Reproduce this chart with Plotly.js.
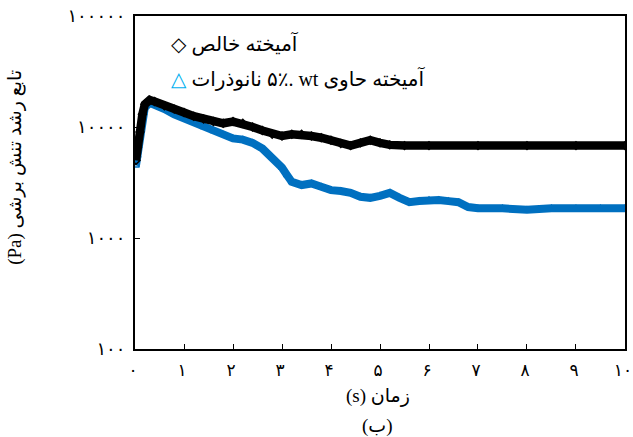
<!DOCTYPE html>
<html>
<head>
<meta charset="utf-8">
<script src="https://cdn.plot.ly/plotly-3.0.1.min.js"></script>
<style>html,body{margin:0;padding:0;background:#fff;}#chart{width:633px;height:437px;}</style>
</head>
<body>
<div id="chart"></div>
<script>
// time (s)
const pureX = [0.02,0.05,0.1,0.15,0.2,0.3,0.4,0.6,0.8,1.0,1.2,1.4,1.6,1.8,2.0,2.2,2.4,2.6,2.8,3.0,3.2,3.4,3.6,3.8,4.0,4.2,4.4,4.6,4.8,5.0,5.2,5.5,6,7,8,9,10];
// shear stress growth function (Pa) — pure mixture
const pureY = [5000,6500,9000,13000,16000,17500,17000,15500,14500,13500,12500,11800,11200,10800,11200,10800,10000,9300,8600,8300,8600,8600,8300,8000,7600,7100,6800,7200,7600,7200,6900,6800,6800,6800,6800,6800,6800];
// time (s)
const nanoX = [0.02,0.05,0.1,0.15,0.2,0.3,0.4,0.6,0.8,1.0,1.2,1.4,1.6,1.8,2.0,2.2,2.4,2.6,2.8,3.0,3.1,3.2,3.4,3.6,3.8,4.0,4.2,4.4,4.6,4.8,5.0,5.2,5.4,5.6,5.8,6.0,6.2,6.4,6.6,6.8,7.0,7.5,8,8.5,9,9.5,10];
// mixture with 5 wt% nanoparticles
const nanoY = [4500,5500,8000,12000,15000,16500,16000,14500,13000,12000,11000,10000,9200,8500,7900,7700,7200,6400,5300,4300,3700,3200,3000,3100,2900,2700,2650,2550,2350,2300,2400,2550,2300,2100,2150,2200,2200,2150,2100,1900,1850,1850,1800,1850,1850,1850,1850];

const xTickVals = [0,1,2,3,4,5,6,7,8,9,10];
const xTickText = ['۰','۱','۲','۳','۴','۵','۶','۷','۸','۹','۱۰'];
const yTickVals = [100,1000,10000,100000];
const yTickText = ['۱۰۰','۱۰۰۰','۱۰۰۰۰','۱۰۰۰۰۰'];

const RLE = '\u202B', PDF = '\u202C', RLM = '\u200F';
const legendPure = 'آمیخته خالص';
const legendNano = 'آمیخته حاوی wt' + RLM + ' .۵٪ نانوذرات';
const xTitle = 'زمان (s)';
const yTitle = 'تابع رشد تنش برشی (Pa)';
const subLabel = '(ب)';

const FONT = 'Liberation Serif, DejaVu Sans, serif';

const traces = [
  {x: nanoX, y: nanoY, type: 'scatter', mode: 'lines+markers',
   line: {color: '#0070c0', width: 8},
   marker: {symbol: 'triangle-up-open', size: 6, color: '#0070c0', line: {width: 1.5}},
   showlegend: false},
  {x: pureX, y: pureY, type: 'scatter', mode: 'lines+markers',
   line: {color: '#000000', width: 8.5},
   marker: {symbol: 'diamond-open', size: 6, color: '#000000', line: {width: 1.5}},
   showlegend: false}
];

const layout = {
  width: 633, height: 437,
  margin: {l: 135, r: 8, t: 16, b: 88},
  paper_bgcolor: '#fff', plot_bgcolor: '#fff',
  font: {family: FONT, size: 18, color: '#000'},
  xaxis: {
    range: [-0.0005, 10.0005], tickvals: xTickVals, ticktext: xTickText,
    ticks: 'inside', ticklen: 5, tickwidth: 1, tickcolor: '#000',
    showline: true, linecolor: '#000', linewidth: 2, mirror: true,
    showgrid: false, zeroline: false, ticklabelstandoff: 5,
    ticklabelshift: -2, ticklabeloverflow: 'allow',
    tickfont: {family: FONT, size: 17}
  },
  yaxis: {
    type: 'log', range: [1.9999, 5.0001], tickvals: yTickVals, ticktext: yTickText,
    ticks: 'inside', ticklen: 5, tickwidth: 1, tickcolor: '#000',
    showline: true, linecolor: '#000', linewidth: 2, mirror: true,
    showgrid: false, zeroline: false, ticklabelstandoff: 4,
    ticklabeloverflow: 'allow',
    tickfont: {family: FONT, size: 18}
  },
  showlegend: false,
  annotations: [
    {xref: 'paper', yref: 'paper', x: 0.07, y: 0.918, xanchor: 'left', yanchor: 'middle',
     showarrow: false, text: '◇ ' + RLE + legendPure + PDF, font: {family: FONT, size: 20}},
    {xref: 'paper', yref: 'paper', x: 0.07, y: 0.812, xanchor: 'left', yanchor: 'middle',
     showarrow: false, text: '<span style="color:#00b0f0">△</span> ' + RLE + legendNano + PDF, font: {family: FONT, size: 20}},
    {xref: 'paper', yref: 'paper', x: 0.495, y: -0.14, xanchor: 'center', yanchor: 'middle',
     showarrow: false, text: RLE + xTitle + PDF, font: {family: FONT, size: 19}},
    {xref: 'paper', yref: 'paper', x: 0.495, y: -0.23, xanchor: 'center', yanchor: 'middle',
     showarrow: false, text: RLE + subLabel + PDF, font: {family: FONT, size: 19}},
    {xref: 'paper', yref: 'paper', x: -0.245, y: 0.547, xanchor: 'center', yanchor: 'middle',
     textangle: -90, showarrow: false, text: RLE + yTitle + PDF, font: {family: FONT, size: 19}}
  ]
};

Plotly.newPlot('chart', traces, layout, {staticPlot: true, displayModeBar: false});
</script>
</body>
</html>
